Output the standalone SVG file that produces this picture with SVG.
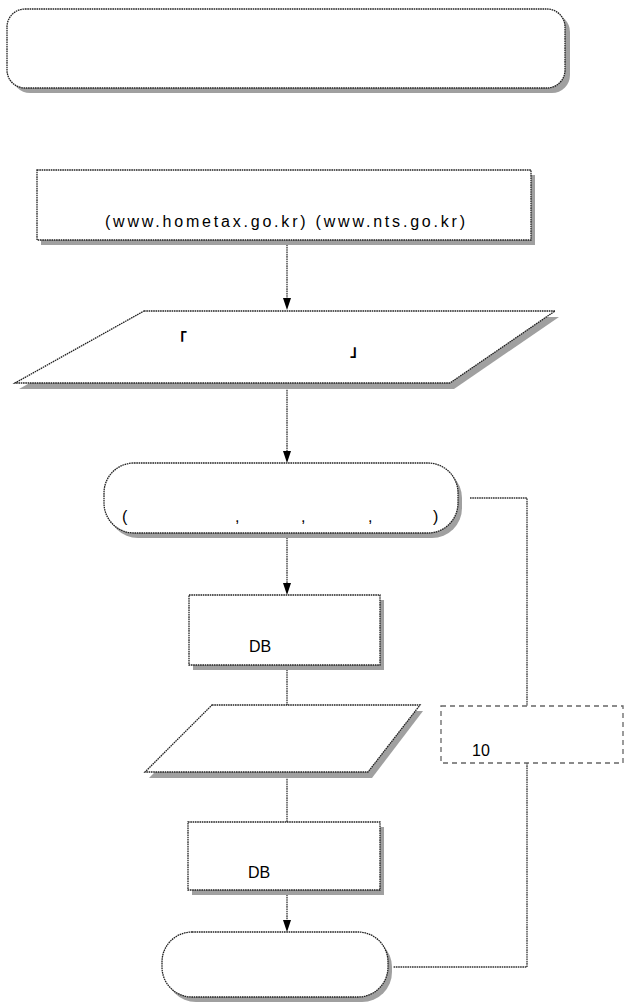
<svg xmlns="http://www.w3.org/2000/svg" width="625" height="1005" viewBox="0 0 625 1005">
<style>
.sh{fill:#a0a0a0;stroke:none}
.nd{fill:#fff;stroke:#222;stroke-width:1.3;stroke-dasharray:1.6 0.7}
.cn{fill:none;stroke:#333;stroke-width:1.3;stroke-dasharray:1.6 0.7}
.dsh{fill:#fff;stroke:#666;stroke-width:1.3;stroke-dasharray:5 4}
.ah{fill:#000}
text{font-family:"Liberation Sans",Arial,sans-serif;font-size:16px;fill:#000}
.br{font-family:"Noto Sans CJK KR","Noto Sans CJK JP",sans-serif;font-weight:bold;font-size:16px}
</style>
<rect width="625" height="1005" fill="#fff"/>

<g id="connectors">
<line class="cn" x1="287" y1="240" x2="287" y2="300"/>
<line class="cn" x1="287" y1="383" x2="287" y2="452"/>
<line class="cn" x1="287" y1="533" x2="287" y2="584"/>
<line class="cn" x1="287" y1="665" x2="287" y2="705"/>
<line class="cn" x1="287" y1="772" x2="287" y2="822"/>
<line class="cn" x1="287" y1="890" x2="287" y2="921"/>
<polyline class="cn" points="470,498 527,498 527,706"/>
<polyline class="cn" points="527,763 527,967 393,967"/>
<path class="ah" d="M283,298 L291,298 L287,310 Z"/>
<path class="ah" d="M283,451 L291,451 L287,463 Z"/>
<path class="ah" d="M283,583 L291,583 L287,595 Z"/>
<path class="ah" d="M283,920 L291,920 L287,932 Z"/>
</g>

<g id="n1">
<rect class="sh" x="12" y="14" width="558" height="79" rx="18"/>
<rect class="nd" x="7" y="9" width="558" height="79" rx="18"/>
</g>

<g id="n2">
<rect class="sh" x="41" y="175" width="494" height="70"/>
<rect class="nd" x="37" y="170" width="494" height="70"/>
<text x="285" y="227" text-anchor="middle" textLength="360" lengthAdjust="spacing">(www.hometax.go.kr) (www.nts.go.kr)</text>
</g>

<g id="n3">
<polygon class="sh" points="148,317 559,317 454,389 19,389"/>
<polygon class="nd" points="144,311 555,311 450,383 15,383"/>
<text class="br" x="171" y="345">「</text>
<text class="br" x="350" y="356">」</text>
</g>

<g id="n4">
<rect class="sh" x="108" y="468" width="354" height="70" rx="30"/>
<rect class="nd" x="104" y="463" width="354" height="70" rx="30"/>
<text x="122" y="522" font-size="18">(</text>
<text x="235" y="522">,</text>
<text x="301" y="522">,</text>
<text x="368" y="522">,</text>
<text x="433" y="522" font-size="18">)</text>
</g>

<g id="n5">
<rect class="sh" x="193" y="600" width="191" height="70"/>
<rect class="nd" x="189" y="595" width="191" height="70"/>
<text x="249" y="652" font-size="18">DB</text>
</g>

<g id="n6">
<polygon class="sh" points="215,711 423,711 372,778 149,778"/>
<polygon class="nd" points="212,705 420,705 368,772 145,772"/>
</g>

<g id="n7">
<rect class="dsh" x="441" y="706" width="182" height="57"/>
<text x="472" y="756" font-size="18">10</text>
</g>

<g id="n8">
<rect class="sh" x="192" y="827" width="192" height="68"/>
<rect class="nd" x="188" y="822" width="192" height="68"/>
<text x="248" y="878" font-size="18">DB</text>
</g>

<g id="n9">
<rect class="sh" x="166" y="937" width="226" height="65" rx="30"/>
<rect class="nd" x="162" y="932" width="226" height="65" rx="30"/>
</g>
</svg>
